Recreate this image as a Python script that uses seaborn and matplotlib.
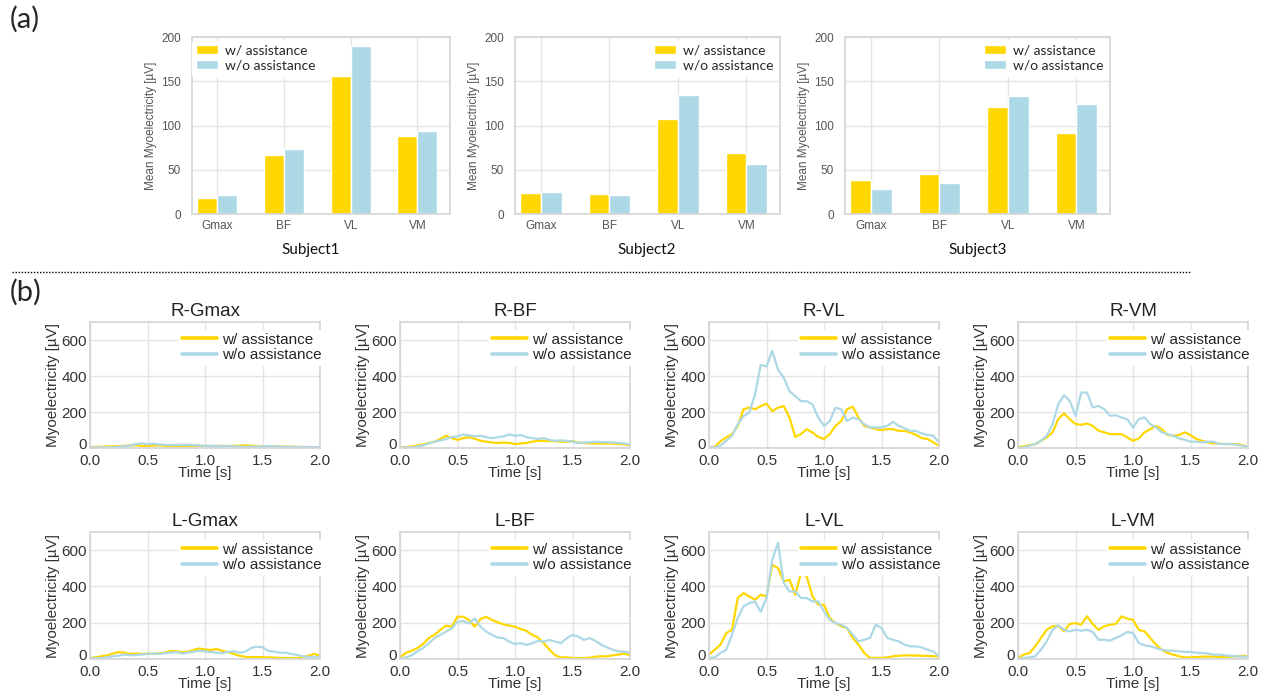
import numpy as np
import pandas as pd
import matplotlib
matplotlib.use("Agg")
import matplotlib.pyplot as plt
import matplotlib.transforms as mtransforms
import seaborn as sns
from matplotlib.lines import Line2D

W, H = 1271, 698

# ---------- (a) mean myoelectricity per subject ----------
muscles = ["Gmax", "BF", "VL", "VM"]
conds = ["w/ assistance", "w/o assistance"]

subj1_with = [18.5, 67, 155.5, 88]
subj1_without = [21, 73.5, 190, 94]
subj2_with = [24, 23, 107, 68.5]
subj2_without = [24.5, 22, 134, 56.5]
subj3_with = [38.5, 45.5, 121, 91]
subj3_without = [28.5, 35, 133.5, 124.5]

# ---------- (b) time series, 0.05 s step ----------
time_s = np.linspace(0, 2, 41)

r_gmax_with = [5, 6, 7, 8, 10, 10, 12, 14, 16, 12, 12, 14, 15, 12, 10, 11, 12, 12, 11, 12,
               12, 11, 12, 12, 11, 12, 13, 15, 12, 11, 11, 10, 10, 9, 8, 7, 6, 6, 5, 4, 3]
r_gmax_without = [3, 3, 4, 4, 5, 7, 10, 14, 22, 26, 21, 24, 20, 18, 16, 17, 18, 17, 16, 14,
                  12, 12, 11, 10, 10, 9, 8, 6, 7, 8, 10, 10, 9, 8, 7, 6, 6, 5, 5, 5, 4]

r_bf_with = [5, 5, 8, 14, 20, 28, 35, 50, 68, 55, 45, 55, 60, 52, 40, 35, 30, 28, 30, 28,
             22, 25, 28, 35, 40, 40, 38, 38, 35, 35, 38, 30, 28, 26, 25, 25, 25, 24, 22, 20, 15]
r_bf_without = [3, 3, 3, 8, 15, 25, 35, 42, 50, 60, 65, 75, 70, 65, 68, 60, 55, 60, 65, 75,
                68, 72, 60, 55, 50, 55, 45, 40, 42, 40, 35, 28, 30, 32, 35, 33, 32, 30, 28, 25, 20]

r_vl_with = [4, 7, 37, 59, 77, 123, 215, 225, 215, 233, 246, 205, 224, 233, 169, 62, 77, 105, 86, 62,
             50, 77, 123, 150, 215, 230, 169, 123, 114, 105, 99, 105, 105, 95, 95, 86, 73, 55, 50, 31, 13]
r_vl_without = [4, 4, 13, 40, 68, 132, 178, 196, 297, 462, 453, 540, 435, 390, 316, 288, 260, 260, 242, 169,
                123, 150, 224, 215, 150, 169, 160, 132, 114, 114, 114, 123, 145, 123, 110, 95, 95, 81, 73, 68, 31]

r_vm_with = [4, 9, 17, 20, 40, 59, 87, 160, 193, 160, 133, 129, 136, 123, 96, 87, 77, 77, 77, 59,
             40, 53, 87, 105, 123, 105, 72, 68, 72, 87, 72, 50, 40, 31, 26, 24, 22, 22, 22, 17, 7]
r_vm_without = [0, 4, 13, 22, 40, 68, 133, 243, 293, 262, 179, 308, 308, 225, 234, 215, 179, 182, 170, 160,
                114, 160, 170, 133, 114, 87, 77, 68, 53, 46, 35, 35, 31, 35, 35, 22, 22, 22, 18, 13, 7]

l_gmax_with = [5, 10, 15, 20, 30, 38, 35, 28, 30, 28, 30, 28, 32, 35, 45, 42, 38, 40, 50, 58,
               52, 50, 55, 45, 38, 28, 18, 12, 10, 10, 10, 9, 8, 6, 5, 5, 5, 10, 18, 28, 18]
l_gmax_without = [3, 5, 5, 10, 15, 18, 25, 20, 22, 25, 28, 30, 28, 32, 35, 38, 30, 35, 40, 45,
                  42, 38, 35, 32, 40, 42, 35, 40, 60, 68, 65, 45, 40, 35, 35, 28, 22, 15, 12, 10, 8]

l_bf_with = [9, 33, 45, 60, 82, 115, 133, 160, 184, 178, 233, 233, 215, 178, 220, 233, 215, 202, 191, 184,
             178, 165, 155, 133, 118, 87, 51, 20, 9, 9, 5, 5, 5, 7, 13, 15, 15, 20, 24, 30, 20]
l_bf_without = [2, 9, 20, 42, 60, 87, 115, 133, 151, 169, 205, 209, 196, 224, 178, 151, 133, 118, 115, 96,
                82, 87, 78, 87, 100, 96, 105, 96, 87, 115, 133, 124, 105, 115, 100, 78, 64, 51, 42, 40, 35]

l_vl_with = [24, 51, 79, 143, 161, 336, 363, 345, 327, 354, 345, 519, 501, 428, 437, 354, 473, 455, 345, 299,
             299, 226, 198, 180, 171, 116, 79, 33, 6, 6, 6, 9, 15, 18, 20, 20, 19, 18, 17, 15, 15]
l_vl_without = [6, 9, 33, 51, 134, 226, 290, 308, 317, 260, 336, 547, 640, 420, 372, 372, 336, 336, 317, 317,
                262, 216, 198, 189, 171, 134, 97, 106, 116, 189, 171, 116, 106, 97, 79, 70, 70, 64, 51, 42, 15]

l_vm_with = [6, 24, 33, 70, 116, 161, 180, 183, 152, 193, 198, 189, 235, 193, 161, 180, 189, 193, 235, 222,
             216, 161, 152, 116, 79, 51, 33, 24, 15, 9, 9, 10, 13, 13, 13, 12, 11, 13, 15, 17, 18]
l_vm_without = [2, 6, 9, 15, 51, 97, 161, 185, 161, 152, 161, 156, 161, 149, 106, 106, 101, 116, 130, 149,
                143, 88, 75, 70, 60, 51, 46, 46, 42, 39, 39, 35, 33, 31, 24, 24, 20, 17, 15, 13, 13]

colors = {"w/ assistance": "#FFD700", "w/o assistance": "#ADD8E6"}

sns.set_theme(style="whitegrid", rc={"grid.color": "#e4e4e4", "axes.edgecolor": "#d6d6d6"})
plt.rcParams["font.family"] = ["Liberation Sans", "DejaVu Sans"]

fig = plt.figure(figsize=(W / 100, H / 100), dpi=100)


def px_box(left, top, right, bottom):
    return [left / W, 1 - bottom / H, (right - left) / W, (bottom - top) / H]


def bar_panel(box, vals_with, vals_without, subject, text_x, loc, anchor):
    ax = fig.add_axes(px_box(*box))
    df = pd.DataFrame({
        "muscle": muscles * 2,
        "cond": [conds[0]] * 4 + [conds[1]] * 4,
        "value": vals_with + vals_without,
    })
    sns.barplot(data=df, x="muscle", y="value", hue="cond", palette=colors,
                width=0.6, saturation=1, errorbar=None, ax=ax)
    ax.xaxis.grid(True)
    ax.set_xlim(-0.38, 3.49)
    ax.set_ylim(0, 200)
    ax.set_yticks([0, 50, 100, 150, 200])
    ax.set_xlabel("")
    ax.set_ylabel("Mean Myoelectricity [µV]", fontsize=8.5, color="#555555", labelpad=3)
    ax.tick_params(axis="both", labelsize=8.5, colors="#555555", length=0)
    ax.tick_params(axis="y", pad=8)
    ax.tick_params(axis="x", pad=4)
    sns.move_legend(ax, loc, bbox_to_anchor=anchor, title=None, frameon=True,
                    facecolor="white", edgecolor="white", framealpha=1,
                    prop={"family": "Lato", "size": 10}, handlelength=1.6,
                    handleheight=0.6, handletextpad=0.5, labelspacing=0.2,
                    borderpad=0.3, borderaxespad=0)
    fig.text(text_x / W, 1 - 250 / H, subject, ha="center", va="center",
             fontsize=11, family="Lato", color="#111111")
    return ax


bar_panel((192, 37, 450, 214), subj1_with, subj1_without, "Subject1", 311, "upper left", (0.0, 0.98))
bar_panel((515, 37, 780, 214), subj2_with, subj2_without, "Subject2", 647, "upper right", (0.99, 0.98))
bar_panel((845, 37, 1110, 214), subj3_with, subj3_without, "Subject3", 978, "upper right", (0.99, 0.98))

panels = [
    ("R-Gmax", r_gmax_with, r_gmax_without),
    ("R-BF", r_bf_with, r_bf_without),
    ("R-VL", r_vl_with, r_vl_without),
    ("R-VM", r_vm_with, r_vm_without),
    ("L-Gmax", l_gmax_with, l_gmax_without),
    ("L-BF", l_bf_with, l_bf_without),
    ("L-VL", l_vl_with, l_vl_without),
    ("L-VM", l_vm_with, l_vm_without),
]
col_left = [90, 400, 709, 1018]
row_tb = [(322, 448), (532, 659)]

for i, (title, vals_with, vals_without) in enumerate(panels):
    r, c = divmod(i, 4)
    top, bottom = row_tb[r]
    ax = fig.add_axes(px_box(col_left[c], top, col_left[c] + 230, bottom))
    df = pd.DataFrame({
        "Time": np.concatenate([time_s, time_s]),
        "value": vals_with + vals_without,
        "cond": [conds[0]] * len(time_s) + [conds[1]] * len(time_s),
    })
    sns.lineplot(data=df, x="Time", y="value", hue="cond", palette=colors,
                 linewidth=1.6, errorbar=None, ax=ax)
    ax.set_xlim(0, 2)
    ax.set_ylim(0, 700)
    ax.set_xticks([0, 0.5, 1.0, 1.5, 2.0])
    ax.set_xticklabels(["0.0", "0.5", "1.0", "1.5", "2.0"])
    ax.set_yticks([0, 200, 400, 600])
    ax.tick_params(axis="both", labelsize=11, colors="#333333", length=0)
    ax.tick_params(axis="y", pad=2)
    ax.tick_params(axis="x", pad=4)
    # nudge the "0" up a little so it clears the "0.0" of the time axis
    zero_lab = ax.get_yticklabels()[0]
    zero_lab.set_transform(mtransforms.offset_copy(zero_lab.get_transform(), fig=fig, y=3.5, units="points"))
    ax.set_xlabel("Time [s]", fontsize=11, color="#333333", labelpad=-1)
    ax.set_ylabel("Myoelectricity [µV]", fontsize=11, color="#333333", labelpad=1)
    ax.set_title(title, fontsize=13.5, color="#222222", pad=4)
    sns.move_legend(ax, "upper right", bbox_to_anchor=(1.02, 0.94), title=None,
                    frameon=True, facecolor="white", edgecolor="white", framealpha=1,
                    fontsize=11, handlelength=2.3, handletextpad=0.3,
                    labelspacing=0.1, borderpad=0.2, borderaxespad=0)
    for h in ax.get_legend().get_lines():
        h.set_linewidth(2.6)

# panel letters and separator
fig.text(10 / W, 1 - 6 / H, "(a)", fontsize=21, family="Lato", va="top", ha="left")
fig.text(10 / W, 1 - 279 / H, "(b)", fontsize=21, family="Lato", va="top", ha="left")
fig.add_artist(Line2D([12 / W, 1190 / W], [1 - 272 / H, 1 - 272 / H], transform=fig.transFigure,
                      color="black", linewidth=1, linestyle=(0, (1, 1.2))))

fig.savefig("out.png", dpi=100)
